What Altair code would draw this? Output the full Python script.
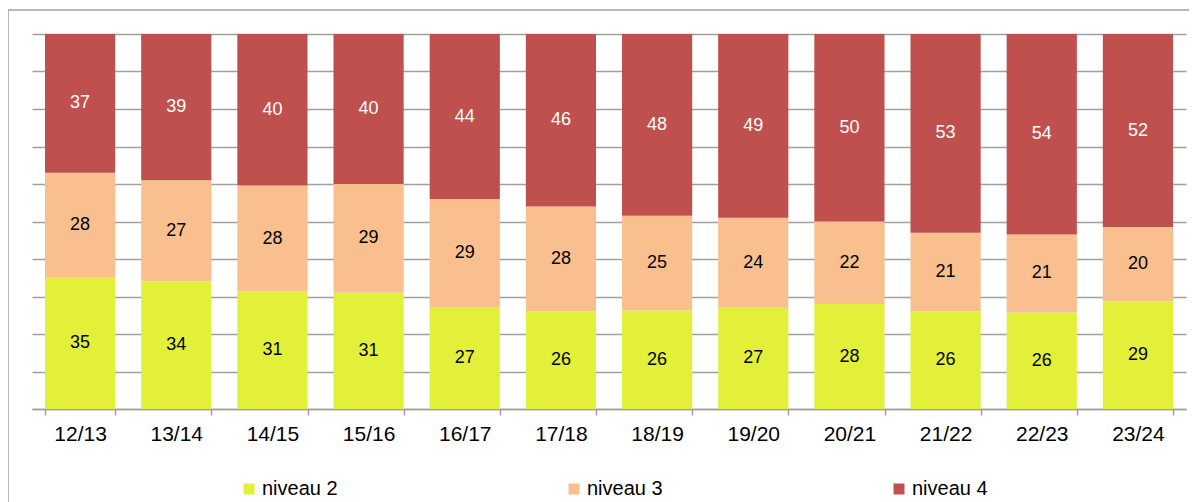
import altair as alt
import pandas as pd

years = ["12/13", "13/14", "14/15", "15/16", "16/17", "17/18",
         "18/19", "19/20", "20/21", "21/22", "22/23", "23/24"]
niveau2 = [35, 34, 31, 31, 27, 26, 26, 27, 28, 26, 26, 29]
niveau3 = [28, 27, 28, 29, 29, 28, 25, 24, 22, 21, 21, 20]
niveau4 = [37, 39, 40, 40, 44, 46, 48, 49, 50, 53, 54, 52]
series = ["niveau 2", "niveau 3", "niveau 4"]
colors = ["#E3F03A", "#F9BF8F", "#C0504D"]
grid_values = [0, 0.1, 0.2, 0.3, 0.4, 0.5, 0.6, 0.7, 0.8, 0.9, 1.0]

rows = []
for i, y in enumerate(years):
    for k, (name, vals) in enumerate(zip(series, [niveau2, niveau3, niveau4])):
        rows.append({"year": y, "series": name, "order": k, "value": vals[i]})
df = pd.DataFrame(rows)

FONT = "Liberation Sans"
GRAY = "#a0a0a0"

base = alt.Chart(df).transform_stack(
    stack="value", groupby=["year"], as_=["y0", "y1"], offset="normalize",
    sort=[alt.SortField("order", order="ascending")]
)

xaxis = alt.Axis(title=None, labelAngle=0, labelFontSize=21, labelFont=FONT,
                 labelColor="black", domainColor=GRAY, domainWidth=1.5,
                 tickColor=GRAY, tickWidth=1.5, tickSize=6, tickBand="extent",
                 labelPadding=8, grid=False)
xscale = alt.Scale(paddingInner=0.27, paddingOuter=0.135)
yaxis = alt.Axis(title=None, labels=False, ticks=False, domain=False, grid=True,
                 values=grid_values, gridColor=GRAY, gridWidth=1.5)
yscale = alt.Scale(domain=[0, 1], nice=False)

bars = base.mark_bar().encode(
    x=alt.X("year:N", sort=years, scale=xscale, axis=xaxis),
    y=alt.Y("y0:Q", scale=yscale, axis=yaxis),
    y2="y1:Q",
    color=alt.Color("series:N", scale=alt.Scale(domain=series, range=colors),
                    legend=alt.Legend(title=None, orient="none", legendX=207, legendY=445,
                                      direction="horizontal", symbolType="square",
                                      symbolSize=121, symbolStrokeWidth=0,
                                      labelFontSize=20, labelFont=FONT, labelColor="black",
                                      labelOffset=3, columnPadding=226, padding=0)),
)

labels = base.transform_calculate(mid="(datum.y0 + datum.y1) / 2").mark_text(
    fontSize=18, font=FONT, baseline="middle", align="center"
).encode(
    x=alt.X("year:N", sort=years, scale=xscale, axis=xaxis),
    y=alt.Y("mid:Q", scale=yscale, axis=yaxis),
    text=alt.Text("value:Q"),
    color=alt.condition(alt.datum.series == "niveau 4", alt.value("white"), alt.value("black")),
)

frame_data = pd.DataFrame({"f": [0]})
frame_left = alt.Chart(frame_data).mark_rule(color=GRAY, strokeWidth=1.5).encode(
    x=alt.value(-24), y=alt.value(-24), y2=alt.value(480))
frame_top = alt.Chart(frame_data).mark_rule(color=GRAY, strokeWidth=1.5).encode(
    x=alt.value(-24), x2=alt.value(1170), y=alt.value(-24))

chart = alt.layer(bars, labels, frame_left, frame_top).properties(
    width=1154, height=375,
    autosize=alt.AutoSizeParams(type="none"),
    padding={"left": 24, "top": 26, "right": 3, "bottom": 93},
).configure_view(stroke=None)

chart.save("out.html", embed_options={"renderer": "svg", "actions": False})
